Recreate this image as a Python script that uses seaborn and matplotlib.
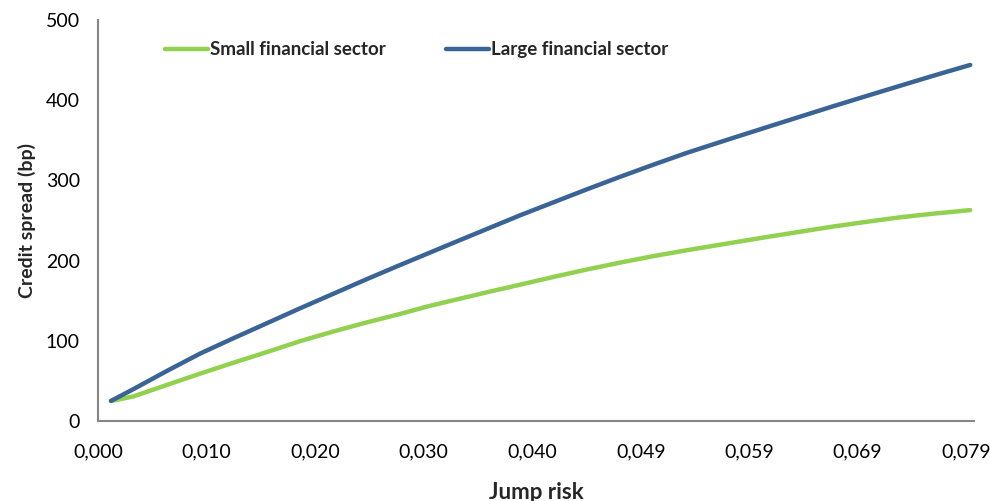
import matplotlib
matplotlib.use("Agg")
import matplotlib.pyplot as plt
from matplotlib.lines import Line2D
import seaborn as sns
import pandas as pd

# Data
jump_risk = [0.00118, 0.00319, 0.00628, 0.00928, 0.01229, 0.01538, 0.01838, 0.02139,
             0.02448, 0.02749, 0.03003, 0.03231, 0.03540, 0.03841, 0.04141, 0.04451,
             0.04751, 0.05051, 0.05361, 0.05779, 0.06089, 0.06389, 0.06690, 0.06999,
             0.07299, 0.07600, 0.07937]
small_sector = [25, 30.5, 45, 59, 72.5, 86, 99.5, 111.5, 123, 133.5, 143, 150.5, 160.5, 170,
                179.5, 189, 197.5, 205.5, 213, 222.5, 229.5, 236, 242.5, 248.5, 254, 258.5, 263]
large_sector = [25, 39.5, 62.5, 84, 103, 122, 140.5, 158.5, 177, 194.5, 209, 222, 239.5, 256.5,
                272.5, 289, 304.5, 319.5, 334.5, 353, 366.5, 379.5, 392.5, 405.5, 418, 430.5, 444]
series_names = ["Small financial sector", "Large financial sector"]
tick_values = [0.0, 0.00988, 0.01975, 0.0296, 0.0395, 0.0494, 0.0593, 0.0691, 0.079]
tick_labels = ["0,000", "0,010", "0,020", "0,030", "0,040", "0,049", "0,059", "0,069", "0,079"]
y_ticks = [0, 100, 200, 300, 400, 500]

df = pd.DataFrame({
    "x": jump_risk * 2,
    "y": small_sector + large_sector,
    "series": [series_names[0]] * len(jump_risk) + [series_names[1]] * len(jump_risk),
})

sns.set_style("white")
plt.rcParams["font.family"] = ["Lato", "DejaVu Sans"]

fig = plt.figure(figsize=(9.9, 5.01), dpi=100)
ax = fig.add_axes([0.099, 0.1597, 0.885, 0.8003])

palette = {series_names[0]: "#92D050", series_names[1]: "#3A6496"}
sns.lineplot(data=df, x="x", y="y", hue="series", palette=palette, linewidth=3.2,
             ax=ax, legend=False, solid_capstyle="round", solid_joinstyle="round")

ax.set_xlim(0, 0.07973)
ax.set_ylim(0, 500)
ax.set_xticks(tick_values)
ax.set_xticklabels(tick_labels, fontsize=14)
ax.set_yticks(y_ticks)
ax.set_yticklabels([str(v) for v in y_ticks], fontsize=14)

for side in ["top", "right"]:
    ax.spines[side].set_visible(False)
for side in ["left", "bottom"]:
    ax.spines[side].set_color("#868686")
    ax.spines[side].set_linewidth(1.5)
ax.tick_params(axis="both", which="major", direction="out", length=5, width=1.5,
               color="#868686", labelcolor="black")
ax.tick_params(axis="x", pad=11)
ax.tick_params(axis="y", pad=8)

ax.set_xlabel("Jump risk", fontsize=16, fontweight="bold", labelpad=16)
ax.set_ylabel("Credit spread (bp)", fontsize=14, fontweight="bold", labelpad=7)

handles = [Line2D([0], [0], color=palette[n], lw=3.2, solid_capstyle="round") for n in series_names]
ax.legend(handles, series_names, ncol=2, frameon=False, loc="upper left",
          bbox_to_anchor=(0.068, 0.966), borderaxespad=0, handlelength=2.3,
          handletextpad=0.1, columnspacing=3.2,
          prop={"family": ["Lato", "DejaVu Sans"], "weight": "bold", "size": 13.5})

fig.savefig("out.png", dpi=100)
